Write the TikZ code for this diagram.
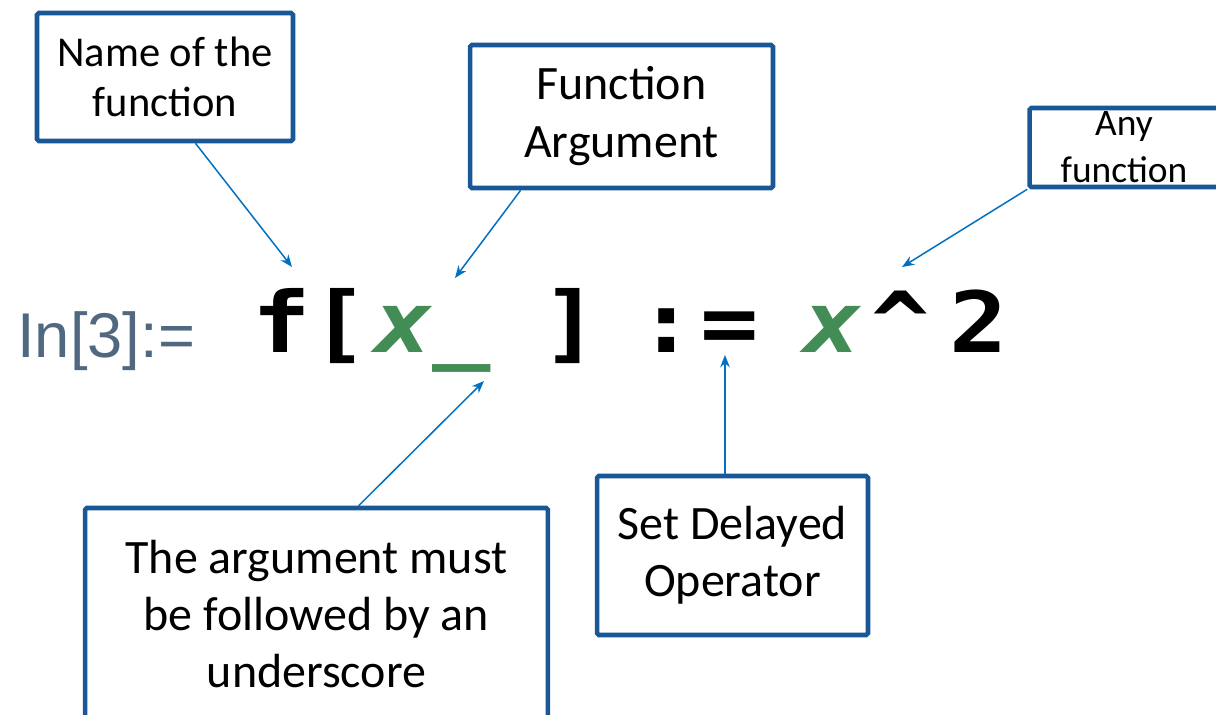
\documentclass[tikz,border=0pt]{standalone}
\usepackage{graphicx}
\usepackage{fontspec}
\setmainfont{Carlito}
\newfontfamily\codefont{DejaVu Sans Mono}
\newfontfamily\promptfont{Liberation Sans}
\usetikzlibrary{arrows.meta, calc, positioning}

\definecolor{boxblue}{RGB}{25,87,150}
\definecolor{arrowblue}{RGB}{0,112,192}
\definecolor{patgreen}{RGB}{66,140,86}
\definecolor{promptgray}{RGB}{80,104,128}

\newcommand{\stretchcode}[1]{\scalebox{1.15}[1]{#1}}

\begin{document}
\begin{tikzpicture}[x=0.02cm, y=-0.02cm,
    note/.style={draw=boxblue, line width=2.6pt, rounded corners=1pt, fill=white, align=center, inner sep=0pt},
    pointer/.style={draw=arrowblue, line width=0.85pt, -{Stealth[length=7pt, width=5.5pt]}},
    code/.style={anchor=base, inner sep=0pt, font=\codefont\bfseries\fontsize{48}{48}\selectfont},
    codearg/.style={code, text=patgreen, font=\codefont\bfseries\itshape\fontsize{48}{48}\selectfont}]
    \clip (0,0) rectangle (1216,714);
    \fill[white] (0,0) rectangle (1216,714);

    % input line
    \node[anchor=base west, inner sep=0pt, text=promptgray, font=\promptfont\fontsize{36}{36}\selectfont] (prompt) at (17,357) {In[3]:=};
    \node[code] (fn) at (282,352) {\stretchcode{f}};
    \node[code] (lbr) at (340,352) {\stretchcode{[}};
    \node[codearg] (arg) at (404,352) {\stretchcode{x}};
    \node[code, text=patgreen] (blank) at (462,352) {\stretchcode{\_}};
    \node[code] (rbr) at (571,352) {\stretchcode{]}};
    \node[code] (colon) at (667,352) {\stretchcode{:}};
    \node[code] (equal) at (730,352) {\stretchcode{=}};
    \node[codearg] (body) at (833,352) {\stretchcode{x}};
    \node[code] (caret) at (901,352) {\stretchcode{\^{}}};
    \node[code] (power) at (979,352) {\stretchcode{2}};

    % arrow tips
    \coordinate (nameTip) at (292,267);
    \coordinate (argTip) at (455,278);
    \coordinate (anyTip) at (902,267);
    \coordinate (blankTip) at (484,381);
    \coordinate (setTip) at (725,355);

    % notes
    \node[note, minimum width=5.12cm, minimum height=2.56cm, font=\fontsize{24.2}{28.5}\selectfont] (fname) at (165,77) {Name of the\\function};
    \node[note, minimum width=6.06cm, minimum height=2.86cm, font=\fontsize{27.3}{33}\selectfont] (farg) at (621.5,116.5) {Function\\Argument};
    \node[note, minimum width=3.78cm, minimum height=1.58cm, font=\fontsize{21.3}{26.7}\selectfont] (anyf) at (1124,147.5) {Any\\function};
    \node[note, minimum width=9.26cm, minimum height=4.24cm, font=\fontsize{27.3}{32.4}\selectfont] (under) at (316.5,614) {The argument must\\be followed by an\\underscore};
    \node[note, minimum width=5.42cm, minimum height=3.18cm, font=\fontsize{27.3}{32.5}\selectfont] (setd) at (732.5,555.5) {Set Delayed\\Operator};

    % pointers
    \draw[pointer] ($(fname.south west)!0.617!(fname.south east)$) -- (nameTip);
    \draw[pointer] ($(farg.south west)!0.172!(farg.south east)$) -- (argTip);
    \draw[pointer] (anyf.south west) -- (anyTip);
    \draw[pointer] ($(under.north west)!0.59!(under.north east)$) -- (blankTip);
    \draw[pointer] (setd.north -| setTip) -- (setTip);
\end{tikzpicture}
\end{document}
